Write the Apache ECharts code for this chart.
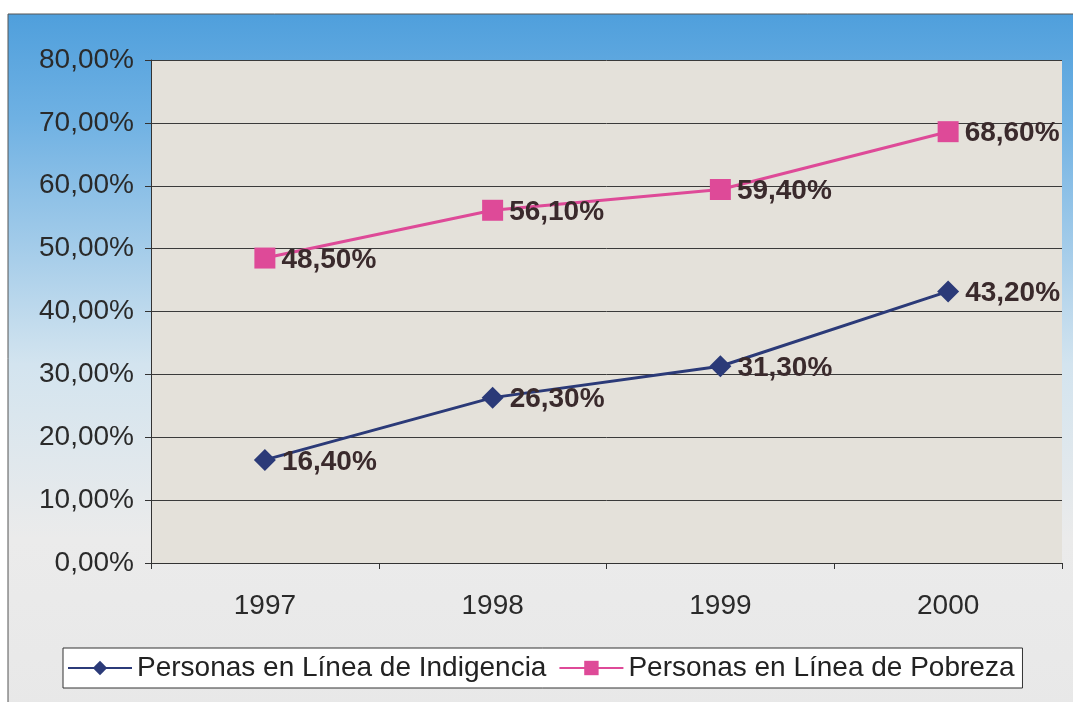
<!DOCTYPE html>
<html><head><meta charset="utf-8">
<script src="https://cdn.jsdelivr.net/npm/echarts@6/dist/echarts.min.js"></script>
<style>html,body{margin:0;padding:0;background:#fff}#c{width:1073px;height:702px}</style>
</head><body><div id="c"></div>
<script>
var categories = ['1997', '1998', '1999', '2000'];
var indigencia = [16.4, 26.3, 31.3, 43.2];
var pobreza = [48.5, 56.1, 59.4, 68.6];
var seriesNames = ['Personas en Línea de Indigencia', 'Personas en Línea de Pobreza'];

function pct(v) { return v.toFixed(2).replace('.', ',') + '%'; }

var FF = "'Liberation Sans', Arial, sans-serif";
var chart = echarts.init(document.getElementById('c'));
var labelStyle = {
  show: true, position: 'right', distance: 6, offset: [0, 2],
  fontFamily: FF, fontSize: 28, fontWeight: 'bold', color: '#3a2a2c',
  formatter: function (p) { return pct(p.value); }
};
chart.setOption({
  animation: false,
  graphic: [{
    type: 'rect', z: -10, silent: true,
    shape: { x: 8, y: 14, width: 1070, height: 700 },
    style: {
      fill: new echarts.graphic.LinearGradient(0, 0, 0, 1, [
        { offset: 0, color: '#4f9fdc' },
        { offset: 0.15, color: '#6fb1e3' },
        { offset: 0.5, color: '#d3e4ef' },
        { offset: 0.75, color: '#ebebeb' },
        { offset: 1, color: '#e8e8e8' }
      ]),
      stroke: '#555', lineWidth: 1
    }
  }],
  grid: { left: 151, top: 60, right: 11, bottom: 139, backgroundColor: '#e4e1da', show: true, borderWidth: 0 },
  legend: {
    left: 63, top: 648, width: 965, height: 44,
    padding: [6, 8, 6, 4], itemGap: 12, itemWidth: 64, itemHeight: 18,
    borderColor: '#333', borderWidth: 1, backgroundColor: '#ffffff',
    textStyle: { fontFamily: FF, fontSize: 28, color: '#222' },
    data: seriesNames
  },
  xAxis: {
    type: 'category', data: categories, boundaryGap: true,
    axisLine: { lineStyle: { color: '#333', width: 1 } },
    axisTick: { show: true, length: 6, lineStyle: { color: '#333' } },
    axisLabel: { margin: 29, fontFamily: FF, fontSize: 28, color: '#2a2a2a' }
  },
  yAxis: {
    type: 'value', min: 0, max: 80, interval: 10,
    axisLine: { show: true, lineStyle: { color: '#333', width: 1 } },
    axisTick: { show: true, length: 6, lineStyle: { color: '#333' } },
    splitLine: { show: true, lineStyle: { color: '#3a3a3a', width: 1 } },
    axisLabel: { margin: 17, fontFamily: FF, fontSize: 28, color: '#2a2a2a', formatter: pct }
  },
  series: [{
    name: seriesNames[0], type: 'line', data: indigencia,
    symbol: 'diamond', symbolSize: 22,
    lineStyle: { color: '#2b3a78', width: 3 },
    itemStyle: { color: '#2b3a78' },
    label: labelStyle
  }, {
    name: seriesNames[1], type: 'line', data: pobreza,
    symbol: 'rect', symbolSize: 21,
    lineStyle: { color: '#de4a98', width: 3 },
    itemStyle: { color: '#de4a98' },
    label: labelStyle
  }]
});
</script></body></html>
